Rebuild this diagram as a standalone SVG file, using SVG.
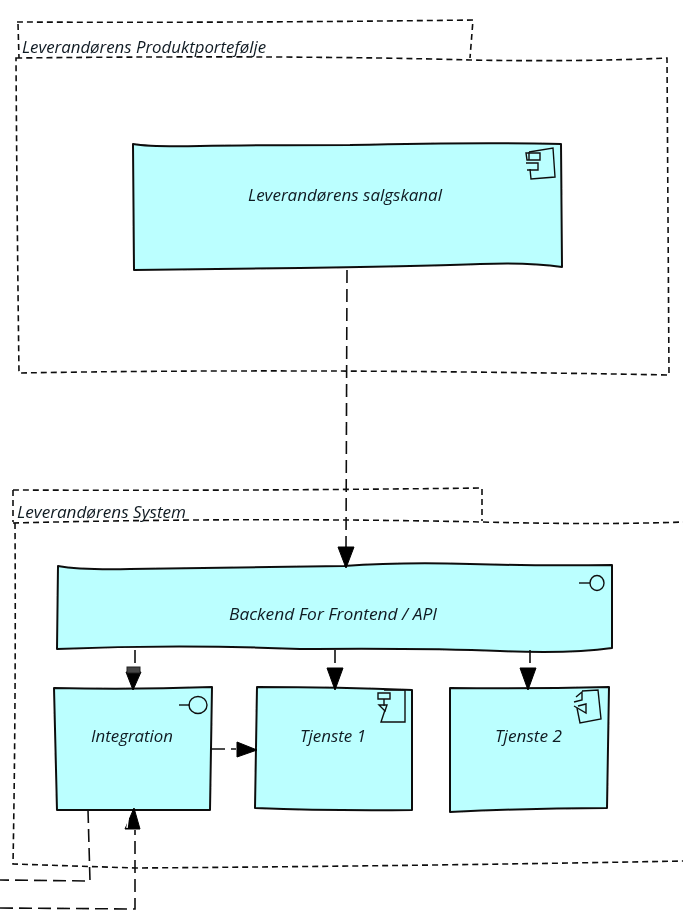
<svg xmlns="http://www.w3.org/2000/svg" width="683" height="911" viewBox="0 0 683 911">
<defs>
<filter id="soft" x="-2%" y="-2%" width="104%" height="104%"><feGaussianBlur stdDeviation="0.5"/></filter>
</defs>
<style>
.frame{fill:none;stroke:#111;stroke-width:1.6;stroke-dasharray:6 4}
.box{fill:#bbffff;stroke:#111;stroke-width:2;stroke-linejoin:round}
.icon{fill:none;stroke:#111;stroke-width:1.4}
.conn{fill:none;stroke:#111;stroke-width:1.6;stroke-dasharray:13 6}
.head{fill:#000;stroke:#000;stroke-width:1}
text{font-family:"Open Sans","DejaVu Sans",sans-serif;font-style:italic;font-size:16px;fill:#111a22}
</style>
<rect width="683" height="911" fill="#ffffff"/>
<g filter="url(#soft)">
<g id="frame-produktportefolje">
<path class="frame" d="M17 22Q240 23 473 20L470 58"/>
<path class="frame" d="M18 24L19 58"/>
<path class="frame" d="M16 58Q300 55 470 60Q580 62 667 58L669 375Q300 368 19 373Q17 220 16 58Z"/>
<text x="22" y="53" textLength="244" lengthAdjust="spacingAndGlyphs">Leverandørens Produktportefølje</text>
</g>
<g id="frame-system">
<path class="frame" d="M13 490Q240 491 482 488L482 521"/>
<path class="frame" d="M13 490L13 522"/>
<path class="frame" d="M13 523Q250 517 482 522Q600 525 683 522"/>
<path class="frame" d="M15 523Q16 700 13 864L135 868Q420 866 683 861"/>
<text x="17" y="518" textLength="169" lengthAdjust="spacingAndGlyphs">Leverandørens System</text>
</g>
<g id="node-salgskanal">
<path class="box" d="M133 144Q150 147 200 146T350 145Q480 142 561 144L562 267Q530 262 480 264T300 268L134 270Z"/>
<path class="icon" d="M529 152L553 148L555 177L531 179L530 169M529 160V152"/>
<path class="icon" d="M526 153H540V160H527ZM526 163H538V170H527"/>
<text x="248" y="201" textLength="194" lengthAdjust="spacingAndGlyphs">Leverandørens salgskanal</text>
</g>
<g id="node-bff">
<path class="box" d="M58 566Q80 570 130 569T344 566Q400 562 470 564T612 565L612 648Q570 654 500 651T300 649Q180 644 57 649Z"/>
<ellipse class="icon" cx="597" cy="583" rx="7" ry="7.5"/>
<path class="icon" d="M579 583H590"/>
<text x="229" y="620" textLength="208" lengthAdjust="spacingAndGlyphs">Backend For Frontend / API</text>
</g>
<g id="node-integration">
<path class="box" d="M54 688Q130 690 212 687L210 810H57Z"/>
<ellipse class="icon" cx="198" cy="705" rx="9" ry="8.5"/>
<path class="icon" d="M179 705H190"/>
<text x="91" y="742" textLength="82" lengthAdjust="spacingAndGlyphs">Integration</text>
</g>
<g id="node-tjeneste1">
<path class="box" d="M257 687Q340 687 412 690V810Q330 811 255 808Z"/>
<path class="icon" d="M384 690H405V722H381L385 710"/>
<path class="icon" d="M378 693H390V699H378ZM384 699V706M379 705H387L385 711Z"/>
<text x="300" y="742" textLength="66" lengthAdjust="spacingAndGlyphs">Tjenste 1</text>
</g>
<g id="node-tjeneste2">
<path class="box" d="M450 688Q530 689 609 687L607 808Q530 808 450 812Z"/>
<path class="icon" d="M582 691L598 690L601 719L580 723L577 708"/>
<path class="icon" d="M576 697L582 692V700L574 702M574 706L586 713V704L578 706"/>
<text x="495" y="742" textLength="67" lengthAdjust="spacingAndGlyphs">Tjenste 2</text>
</g>
<g id="connectors">
<path class="conn" d="M347 270L346 548"/>
<path class="head" d="M338 547H354L346 568Z"/>
<path class="conn" d="M135 650V668"/>
<path class="head" d="M126 672H141L133 690Z"/>
<rect x="127" y="667" width="13" height="6" fill="#444" stroke="#222"/>
<path class="conn" d="M335 650V668"/>
<path class="head" d="M327 668H343L335 690Z"/>
<path class="conn" d="M530 650V668"/>
<path class="head" d="M520 668H536L528 690Z"/>
<path class="conn" d="M212 749H236"/>
<path class="head" d="M237 742V757L257 750Z"/>
<path class="conn" d="M88 810L90 881L0 880"/>
<path class="conn" d="M0 908L135 909V830"/>
<path class="head" d="M125 829H140L134 808Z"/>
<path d="M129 812L127 828" stroke="#fff" stroke-width="1.5" fill="none"/>
</g>
</g>
</svg>
